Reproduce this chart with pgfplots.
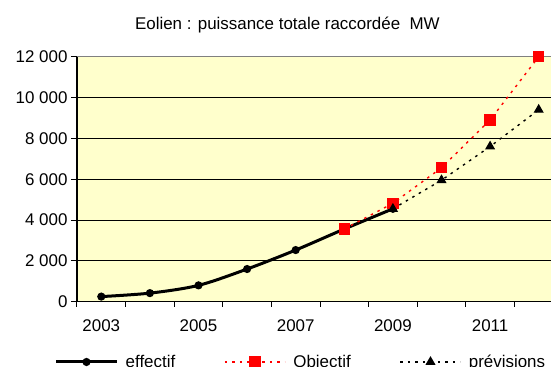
\documentclass[border=0pt]{standalone}
\usepackage{fontspec}
\setmainfont{Liberation Sans}
\usepackage{pgfplots}
\pgfplotsset{compat=1.18}
\definecolor{plotbg}{HTML}{FFFFCC}
\definecolor{objred}{HTML}{FF0000}
\definecolor{frame}{HTML}{808080}

\begin{document}
\begin{tikzpicture}
\path[use as bounding box, clip] (-77bp,-65.3bp) rectangle (474bp,301.7bp);
\begin{axis}[
  at={(0,0)}, anchor=south west,
  scale only axis, width=486bp, height=245bp,
  xmin=-0.5, xmax=9.5, ymin=0, ymax=12000,
  axis background/.style={fill=plotbg},
  axis x line*=bottom, axis y line*=left,
  axis line style={-, black, line width=1.2bp},
  tick align=outside,
  tick style={black, line width=1bp},
  major tick length=6bp, minor tick length=5bp,
  xtick={0,2,4,6,8},
  xticklabels={2003,2005,2007,2009,2011},
  major x tick style={draw=none},
  minor xtick={-0.5,0.5,...,9.5},
  xticklabel style={yshift=-8bp},
  ytick={0,2000,4000,6000,8000,10000,12000},
  yticklabels={0,2 000,4 000,6 000,8 000,10 000,12 000},
  scaled y ticks=false,
  ymajorgrids,
  grid style={black, line width=0.8bp},
  tick label style={font=\fontsize{17}{20}\selectfont},
  /pgf/number format/assume math mode=true,
  title={Eolien : puissance totale raccordée~ MW},
  title style={font=\fontsize{17}{20}\selectfont, at={(0.433,1)}, anchor=base, yshift=21bp},
  legend columns=3,
  legend style={draw=none, fill=none, inner sep=0pt, outer sep=0pt,
    at={(-0.04527,-0.2461)}, anchor=west,
    font=\fontsize{17}{20}\selectfont,
    nodes={inner sep=0pt},
    /tikz/every odd column/.append style={column sep=7.7bp},
    /tikz/every even column/.append style={column sep=49bp}},
  legend image code/.code={\draw[mark repeat=2,mark phase=2,#1] plot coordinates {(0bp,0bp) (30bp,0bp) (60bp,0bp)};},
]
% installed capacity
\addplot[black, line width=3bp, smooth, tension=0.5, mark=*, mark size=2.5bp, mark options={solid}]
  coordinates {(0,250) (1,420) (2,800) (3,1600) (4,2530) (5,3560) (6,4550)};
\addlegendentry{effectif}
% target trajectory
\addplot[objred, line width=1.4bp, dash pattern=on 2.5bp off 5bp, mark=square*, mark size=5bp, mark options={solid, fill=objred, draw=objred}]
  coordinates {(5,3560) (6,4820) (7,6560) (8,8900) (9,12000)};
\addlegendentry{Objectif}
% forecast
\addplot[black, line width=1.4bp, dash pattern=on 2.5bp off 5bp, mark=triangle*, mark size=4.5bp, mark options={solid}]
  coordinates {(6,4550) (7,5950) (8,7600) (9,9400)};
\addlegendentry{prévisions}
% grey upper frame of the plot area
\draw[frame, line width=1.5bp] (rel axis cs:0,1) -- (rel axis cs:1,1);
\end{axis}
\end{tikzpicture}
\end{document}
